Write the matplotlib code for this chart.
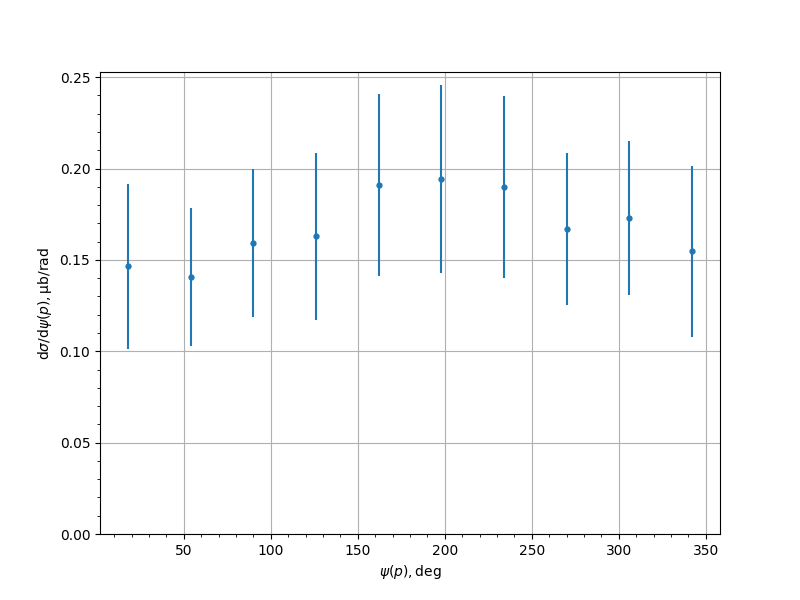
import matplotlib
matplotlib.use("Agg")
import matplotlib.pyplot as plt
from matplotlib.ticker import MultipleLocator

psi = [18, 54, 90, 126, 162, 198, 234, 270, 306, 342]
xsec = [0.1464, 0.1405, 0.1592, 0.1630, 0.1910, 0.1943, 0.1899, 0.1669, 0.1729, 0.1548]
err = [0.0453, 0.0378, 0.0405, 0.0457, 0.0499, 0.0513, 0.0499, 0.0416, 0.0422, 0.0468]

fig, ax = plt.subplots(figsize=(8, 6), dpi=100)
ax.errorbar(psi, xsec, yerr=err, fmt='o', markersize=3.5, color='#1f77b4')
ax.set_ylim(bottom=0)
ax.xaxis.set_minor_locator(MultipleLocator(10))
ax.yaxis.set_minor_locator(MultipleLocator(0.01))
ax.grid(True, which='major')
ax.set_xlabel(r'$\psi(p), \mathrm{deg}$')
ax.set_ylabel(r'$\mathrm{d}\sigma/\mathrm{d}\psi(p), \mathrm{\mu b/rad}$')
fig.savefig('out.png', dpi=100)
